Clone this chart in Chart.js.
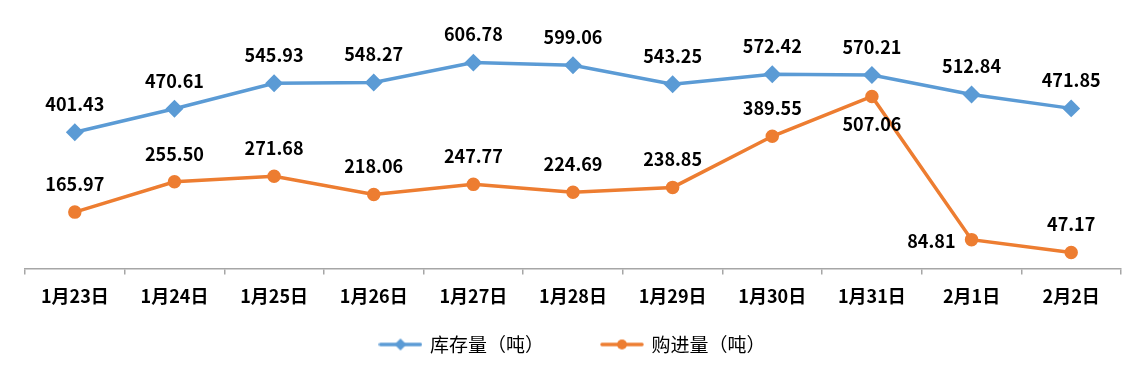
<!DOCTYPE html>
<html lang="zh-CN">
<head>
    <meta charset="UTF-8">
    <title>库存量与购进量</title>
    <script src="https://cdn.jsdelivr.net/npm/chart.js"></script>
    <style>
        html, body { margin: 0; padding: 0; background: #fff; }
        .chart-container { width: 1147px; height: 367px; position: relative; }
    </style>
</head>
<body>
    <div class="chart-container">
        <canvas id="stockChart"></canvas>
    </div>

    <script>
        const categories = ["1月23日", "1月24日", "1月25日", "1月26日", "1月27日", "1月28日", "1月29日", "1月30日", "1月31日", "2月1日", "2月2日"];
        const stockValues = [401.43, 470.61, 545.93, 548.27, 606.78, 599.06, 543.25, 572.42, 570.21, 512.84, 471.85];
        const purchaseValues = [165.97, 255.50, 271.68, 218.06, 247.77, 224.69, 238.85, 389.55, 507.06, 84.81, 47.17];
        const seriesNames = ["库存量（吨）", "购进量（吨）"];

        const BLUE = "#5B9BD5";
        const ORANGE = "#ED7D31";
        const FONT = "'Noto Sans CJK SC', 'Noto Sans', sans-serif";
        const LEGEND_PAD = 58;   // horizontal gap between legend items
        const LEGEND_TRIM = LEGEND_PAD - 17; // vertical space we don't want from that padding

        // where each value label sits relative to its point
        const labelPlacement = [
            Array(11).fill("above"),
            ["above", "above", "above", "above", "above", "above", "above", "above", "below", "left", "above"]
        ];

        // legend swatch: a short line with the marker in the middle
        function legendSwatch(color, shape) {
            const c = document.createElement("canvas");
            c.width = 44;
            c.height = 14;
            const g = c.getContext("2d");
            g.strokeStyle = color;
            g.lineWidth = 3.5;
            g.lineCap = "round";
            g.beginPath();
            g.moveTo(2, 7);
            g.lineTo(42, 7);
            g.stroke();
            g.fillStyle = color;
            g.beginPath();
            if (shape === "diamond") {
                g.moveTo(22, 1); g.lineTo(28, 7); g.lineTo(22, 13); g.lineTo(16, 7);
            } else {
                g.arc(22, 7, 5, 0, Math.PI * 2);
            }
            g.closePath();
            g.fill();
            return c;
        }
        const swatches = [legendSwatch(BLUE, "diamond"), legendSwatch(ORANGE, "circle")];

        const valueLabels = {
            id: "valueLabels",
            afterDatasetsDraw(chart) {
                const ctx = chart.ctx;
                ctx.save();
                ctx.font = "bold 18px " + FONT;
                ctx.fillStyle = "#000";
                chart.data.datasets.forEach((ds, di) => {
                    const meta = chart.getDatasetMeta(di);
                    meta.data.forEach((pt, i) => {
                        const text = ds.data[i].toFixed(2);
                        const where = labelPlacement[di][i];
                        let x = pt.x, y = pt.y;
                        ctx.textBaseline = "middle";
                        ctx.textAlign = "center";
                        if (where === "above") y -= 28;
                        else if (where === "below") y += 28;
                        else if (where === "left") { ctx.textAlign = "right"; x -= 16; y += 2; }
                        ctx.fillText(text, x, y);
                    });
                });
                ctx.restore();
            }
        };

        // legend padding is used both ways; keep the wide horizontal gap but not the tall box
        const legendGap = {
            id: "legendGap",
            beforeInit(chart) {
                const fit = chart.legend.fit;
                chart.legend.fit = function () {
                    fit.call(this);
                    this.height -= LEGEND_TRIM;
                };
            },
            afterLayout(chart) {
                // only move the top, so the legend's clip box still covers the items
                chart.legend.top -= LEGEND_TRIM;
            }
        };

        const ctx = document.getElementById("stockChart").getContext("2d");

        const stockChart = new Chart(ctx, {
            type: "line",
            data: {
                labels: categories,
                datasets: [
                    {
                        label: seriesNames[0],
                        data: stockValues,
                        borderColor: BLUE,
                        backgroundColor: BLUE,
                        borderWidth: 3.5,
                        pointStyle: "rectRot",
                        pointRadius: 6.5,
                        pointHoverRadius: 6.5,
                        tension: 0
                    },
                    {
                        label: seriesNames[1],
                        data: purchaseValues,
                        borderColor: ORANGE,
                        backgroundColor: ORANGE,
                        borderWidth: 3.5,
                        pointStyle: "circle",
                        pointRadius: 5,
                        pointHoverRadius: 5,
                        tension: 0
                    }
                ]
            },
            options: {
                responsive: true,
                maintainAspectRatio: false,
                animation: false,
                layout: {
                    padding: { left: 25, right: 26, top: 31, bottom: 3 }
                },
                plugins: {
                    title: { display: false },
                    tooltip: { enabled: false },
                    legend: {
                        position: "bottom",
                        labels: {
                            color: "#000",
                            font: { family: FONT, size: 19 },
                            usePointStyle: true,
                            pointStyleWidth: 40,
                            padding: LEGEND_PAD,
                            generateLabels(chart) {
                                return chart.data.datasets.map((ds, i) => ({
                                    text: ds.label,
                                    fillStyle: ds.borderColor,
                                    strokeStyle: ds.borderColor,
                                    fontColor: "#000",
                                    pointStyle: swatches[i],
                                    lineWidth: 0,
                                    hidden: false,
                                    datasetIndex: i
                                }));
                            }
                        }
                    }
                },
                scales: {
                    x: {
                        offset: true,
                        border: { display: true, color: "#A6A6A6", width: 1.5 },
                        grid: {
                            offset: true,
                            drawOnChartArea: false,
                            drawTicks: true,
                            tickLength: 6,
                            color: "#A6A6A6",
                            lineWidth: 1.5
                        },
                        ticks: {
                            color: "#000",
                            padding: 11,
                            maxRotation: 0,
                            font: { family: FONT, size: 18, weight: "bold" }
                        }
                    },
                    y: {
                        display: false,
                        min: 0,
                        max: 700
                    }
                }
            },
            plugins: [valueLabels, legendGap]
        });
    </script>
</body>
</html>
